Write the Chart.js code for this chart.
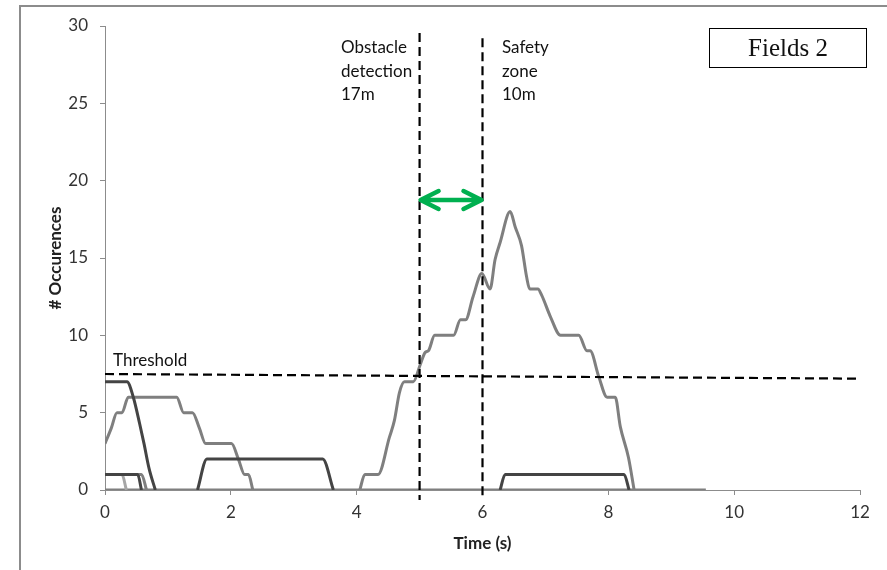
<!DOCTYPE html>
<html>
<head>
<meta charset="utf-8">
<script src="https://cdn.jsdelivr.net/npm/chart.js@4.4.1/dist/chart.umd.min.js"></script>
<style>
  html, body { margin: 0; padding: 0; background: #fff; }
  #wrap { position: relative; width: 887px; height: 570px; overflow: hidden; }
  #frame { position: absolute; left: 19px; top: 5px; width: 900px; height: 600px; border-top: 2px solid #8c8c8c; border-left: 2px solid #8c8c8c; }
  canvas { position: absolute; left: 0; top: 0; }
  .note { position: absolute; font-family: Lato, "Open Sans", sans-serif; font-size: 17px; line-height: 23.5px; color: #111; white-space: nowrap; }
  #fields { position: absolute; left: 709px; top: 28px; width: 156px; height: 38px; border: 1.5px solid #000; font-family: "Liberation Serif", serif; font-size: 25px; line-height: 38px; text-align: center; color: #111; }
</style>
</head>
<body>
<div id="wrap">
  <div id="frame"></div>
  <canvas id="chart" width="887" height="570"></canvas>
  <div class="note" style="left:341px; top:35px;">Obstacle<br>detection<br>17m</div>
  <div class="note" style="left:502px; top:35px;">Safety<br>zone<br>10m</div>
  <div class="note" style="left:113px; top:348px;">Threshold</div>
  <div id="fields">Fields 2</div>
</div>
<script>
// axis ranges
const xMin = 0, xMax = 12, xStep = 2;
const yMin = 0, yMax = 30, yStep = 5;

// traces (time in s, occurrences)
const aTime = [0, 0.3, 0.35, 0.45, 0.55, 0.62, 0.7, 0.8];
const aCount = [7, 7, 7, 6, 4.3, 3, 1.4, 0];

const bTime = [0, 0.1, 0.19, 0.27, 0.37, 1.14, 1.25, 1.39, 1.5, 1.6, 2.01, 2.12, 2.22, 2.28, 2.35];
const bCount = [3, 4, 5, 5, 6, 6, 5, 5, 4, 3, 3, 2, 1, 1, 0];

const cTime = [1.47, 1.62, 3.46, 3.63];
const cCount = [0, 2, 2, 0];

const dTime = [0, 0.27, 0.34];
const dCount = [1, 1, 0];

const eTime = [0, 0.52, 0.58];
const eCount = [1, 1, 0];

const fTime = [0, 0.58, 0.66];
const fCount = [1, 1, 0];

const gTime = [4.05, 4.13, 4.34, 4.52, 4.6, 4.68, 4.76, 4.9, 5.01, 5.09, 5.14, 5.24, 5.54, 5.65, 5.73, 5.85, 5.99, 6.12,
               6.2, 6.28, 6.44, 6.52, 6.62, 6.7, 6.75, 6.88, 6.94, 7.08, 7.24, 7.53, 7.66, 7.71, 7.85, 7.98, 8.11, 8.19, 8.32, 8.41];
const gCount = [0, 1, 1, 3.4, 4.5, 6.3, 7, 7, 8.1, 8.9, 9, 10, 10, 11, 11, 12.5, 14, 13,
                14.9, 16, 18, 17, 15.8, 13.8, 13, 13, 12.6, 11.2, 10, 10, 9, 9, 7.3, 6, 6, 4.1, 2.1, 0];

const hTime = [6.28, 6.36, 8.25, 8.33];
const hCount = [0, 1, 1, 0];

const baseTime = [0, 9.55];
const baseCount = [0, 0];

// reference lines
const thresholdTime = [0, 12];
const thresholdCount = [7.5, 7.2];
const obstacleTime = [5, 5];
const obstacleCount = [29.55, -0.65];
const safetyTime = [6, 6];
const safetyCount = [29.2, -0.65];
const arrowTime = [5, 6];
const arrowCount = 18.75;

const pts = (xs, ys) => xs.map((x, i) => ({ x: x, y: ys[i] }));

const dark = '#444444', mid = '#7f7f7f', light = '#a6a6a6';

function trace(xs, ys, color) {
  return {
    data: pts(xs, ys),
    borderColor: color,
    borderWidth: 3,
    pointRadius: 0,
    cubicInterpolationMode: 'monotone',
    tension: 0.3,
    borderJoinStyle: 'round',
    fill: false
  };
}

function dashed(xs, ys) {
  return {
    data: pts(xs, ys),
    borderColor: '#000',
    borderWidth: 2.2,
    borderDash: [9, 5],
    pointRadius: 0,
    tension: 0,
    clip: false,
    fill: false
  };
}

const arrowPlugin = {
  id: 'arrow',
  afterDatasetsDraw(chart) {
    const ctx = chart.ctx;
    const x1 = chart.scales.x.getPixelForValue(arrowTime[0]);
    const x2 = chart.scales.x.getPixelForValue(arrowTime[1]);
    const y = chart.scales.y.getPixelForValue(arrowCount);
    ctx.save();
    ctx.strokeStyle = '#00b050';
    ctx.lineWidth = 4.5;
    ctx.lineCap = 'round';
    ctx.lineJoin = 'round';
    ctx.beginPath();
    ctx.moveTo(x1 + 2, y); ctx.lineTo(x2 - 2, y);
    ctx.moveTo(x1 + 19, y - 9); ctx.lineTo(x1 + 1, y); ctx.lineTo(x1 + 19, y + 9);
    ctx.moveTo(x2 - 19, y - 9); ctx.lineTo(x2 - 1, y); ctx.lineTo(x2 - 19, y + 9);
    ctx.stroke();
    ctx.restore();
  }
};

const tickFont = { family: 'Lato, "Open Sans", sans-serif', size: 17 };
const titleFont = { family: 'Lato, "Open Sans", sans-serif', size: 17, weight: 'bold' };

new Chart(document.getElementById('chart'), {
  type: 'line',
  data: {
    datasets: [
      dashed(thresholdTime, thresholdCount),
      dashed(obstacleTime, obstacleCount),
      dashed(safetyTime, safetyCount),
      trace(gTime, gCount, mid),
      trace(hTime, hCount, dark),
      trace(aTime, aCount, dark),
      trace(cTime, cCount, dark),
      trace(bTime, bCount, mid),
      trace(eTime, eCount, dark),
      trace(fTime, fCount, mid),
      trace(dTime, dCount, light),
      trace(baseTime, baseCount, mid)
    ]
  },
  options: {
    responsive: false,
    animation: false,
    devicePixelRatio: 1,
    layout: { padding: { left: 42, right: 27, top: 26, bottom: 14 } },
    plugins: { legend: { display: false }, tooltip: { enabled: false } },
    scales: {
      x: {
        type: 'linear',
        min: xMin, max: xMax,
        ticks: { stepSize: xStep, font: tickFont, color: '#333', padding: 7, maxRotation: 0 },
        grid: { display: true, drawOnChartArea: false, drawTicks: true, tickLength: 5, color: '#8c8c8c' },
        border: { display: true, color: '#8c8c8c', width: 1 },
        title: { display: true, text: 'Time (s)', font: titleFont, color: '#222', padding: { top: 2, bottom: 2 } },
        afterFit(scale) { scale.height = 66; }
      },
      y: {
        min: yMin, max: yMax,
        ticks: { stepSize: yStep, font: tickFont, color: '#333', padding: 12 },
        grid: { display: true, drawOnChartArea: false, drawTicks: true, tickLength: 5, color: '#8c8c8c' },
        border: { display: true, color: '#8c8c8c', width: 1 },
        title: { display: true, text: '# Occurences', font: titleFont, color: '#222', padding: { top: 3, bottom: 3 } },
        afterFit(scale) { scale.width = 63; }
      }
    }
  },
  plugins: [arrowPlugin]
});
</script>
</body>
</html>
